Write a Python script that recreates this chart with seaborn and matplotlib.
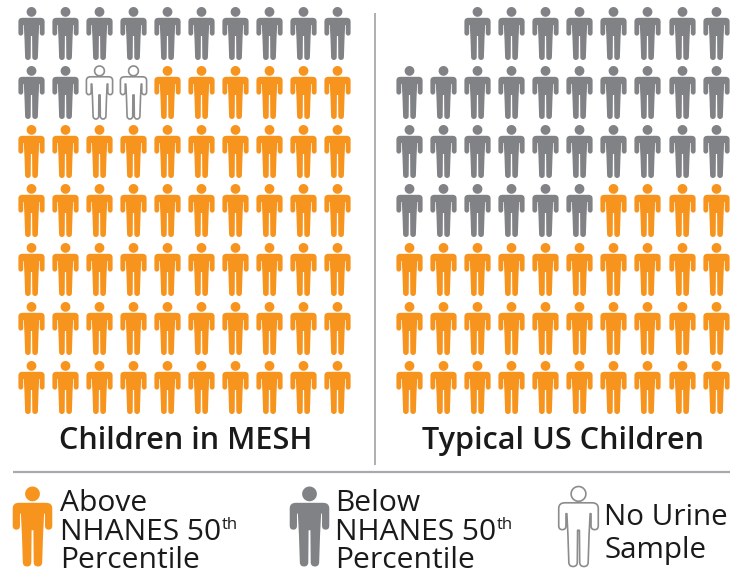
import matplotlib
matplotlib.use("Agg")
import matplotlib.pyplot as plt
from matplotlib.path import Path
import numpy as np
import pandas as pd
import seaborn as sns

# ---- data ----
status_names = ["above", "below", "none"]
mesh_row_lengths = [10, 10, 10, 10, 10, 10, 10]
mesh_counts = {"below": 12, "none": 2, "above": 56}
us_row_lengths = [8, 10, 10, 10, 10, 10, 10]
us_counts = {"below": 34, "none": 0, "above": 34}
panel_titles = ["Children in MESH", "Typical US Children"]
legend_labels = {
    "above": ["Above", "NHANES 50", "Percentile"],
    "below": ["Below", "NHANES 50", "Percentile"],
    "none": ["No Urine", "Sample"],
}
superscript = "th"

# ---- style ----
W, H, DPI = 744, 575, 100
ORANGE, GRAY, LINE = "#F7941E", "#808285", "#8C8C8C"
FONT = ["Open Sans", "DejaVu Sans"]
sns.set_theme(style="white")
plt.rcParams["font.family"] = FONT
TEXT = "#1a1a1a"


def person_path():
    """Pictogram glyph, drawn on a 53 unit tall box and centred on 0."""
    right = [
        (Path.MOVETO, (0, 10.8)),
        (Path.LINETO, (9, 10.8)),
        (Path.CURVE3, (13.1, 10.8)), (Path.CURVE3, (13.1, 14.5)),
        (Path.LINETO, (13.1, 26)),
        (Path.CURVE3, (13.1, 28.6)), (Path.CURVE3, (10.7, 28.6)),
        (Path.CURVE3, (8.3, 28.6)), (Path.CURVE3, (8.3, 26)),
        (Path.LINETO, (8.3, 18)),
        (Path.LINETO, (7.7, 18)),
        (Path.LINETO, (7.0, 32)),
        (Path.LINETO, (6.4, 50.4)),
        (Path.CURVE3, (6.2, 53)), (Path.CURVE3, (3.6, 53)),
        (Path.CURVE3, (1.0, 53)), (Path.CURVE3, (0.8, 50.4)),
        (Path.LINETO, (0.6, 29)),
        (Path.LINETO, (0, 29)),
    ]
    codes = [c for c, _ in right]
    verts = [p for _, p in right]
    m_verts, m_codes = [], []
    for i in range(len(right) - 2, -1, -1):
        m_verts.append((-verts[i][0], verts[i][1]))
        m_codes.append(codes[i + 1] if codes[i + 1] != Path.MOVETO else Path.LINETO)
    all_v = np.array(verts + m_verts, float)
    all_c = codes + m_codes
    all_v[:, 1] = 26.5 - all_v[:, 1]
    body = Path(all_v, all_c)
    theta = np.linspace(0, 2 * np.pi, 33)
    r = 4.9
    hv = np.c_[r * np.cos(theta), 26.5 - r + r * np.sin(theta)]
    hc = [Path.MOVETO] + [Path.LINETO] * 32
    head = Path(hv, hc)
    return Path.make_compound_path(body, head)


PERSON = person_path()


def person_size(px):
    return (px * 72 / DPI) ** 2


def draw_people(ax, df, height):
    styles = {
        "above": dict(color=ORANGE, linewidth=0),
        "below": dict(color=GRAY, linewidth=0),
        "none": dict(color="white", edgecolor=LINE, linewidth=1.2),
    }
    for st in status_names:
        sub = df[df["status"] == st]
        if len(sub):
            sns.scatterplot(data=sub, x="x", y="y", marker=PERSON, s=person_size(height),
                            legend=False, ax=ax, clip_on=False, **styles[st])


def panel_frame(row_lengths, counts):
    rows, cols = [], []
    width = max(row_lengths)
    for r, n in enumerate(row_lengths):
        for c in range(width - n, width):
            rows.append(r)
            cols.append(c)
    order = ["below", "none", "above"]
    status = [s for s in order for _ in range(counts[s])]
    return pd.DataFrame({"x": cols, "y": rows, "status": status})


def px_axes(fig, x0, x1, y0, y1):
    return fig.add_axes([x0 / W, 1 - y1 / H, (x1 - x0) / W, (y1 - y0) / H])


fig = plt.figure(figsize=(W / DPI, H / DPI), dpi=DPI, facecolor="white")

for (x0, x1), rl, cnt in [((13.7, 353.7), mesh_row_lengths, mesh_counts),
                          ((391.7, 732.7), us_row_lengths, us_counts)]:
    ax = px_axes(fig, x0, x1, 3.8, 416.8)
    draw_people(ax, panel_frame(rl, cnt), 53)
    ax.set_xlim(-0.5, 9.5)
    ax.set_ylim(6.5, -0.5)
    ax.set_axis_off()

ov = px_axes(fig, 0, W, 0, H)
ov.patch.set_alpha(0)
ov.plot([375, 375], [13, 465], color="#9A9A9A", lw=1.1, solid_capstyle="butt")
ov.plot([13, 730], [472, 472], color="#A7A9AC", lw=1.6, solid_capstyle="butt")

for cx, t in zip([185.5, 562.5], panel_titles):
    ov.text(cx, 449, t, ha="center", va="baseline", fontsize=22.1, fontweight=600, color=TEXT)

legend_marks = pd.DataFrame({"x": [31.7, 308.7, 577.7], "y": [525.5, 525.5, 525.5],
                             "status": ["above", "below", "none"]})
draw_people(ov, legend_marks, 80)
ov.set_xlim(0, W)
ov.set_ylim(H, 0)
ov.set_axis_off()

fig.canvas.draw()
rend = fig.canvas.get_renderer()
layout = {"above": (60, [511, 540, 567.5], 21.6),
          "below": (335, [511, 540, 567.5], 21.6),
          "none": (604, [525, 558], 21.3)}
for st, (lx, bases, fs) in layout.items():
    for line, by in zip(legend_labels[st], bases):
        t = ov.text(lx, by, line, ha="left", va="baseline", fontsize=fs, color=TEXT)
        if line.endswith("50"):
            bb = t.get_window_extent(rend)
            ov.text(bb.x1 + 1, by - 11, superscript, ha="left", va="baseline", fontsize=12, color=TEXT)

fig.savefig("out.png", dpi=DPI, facecolor="white")
